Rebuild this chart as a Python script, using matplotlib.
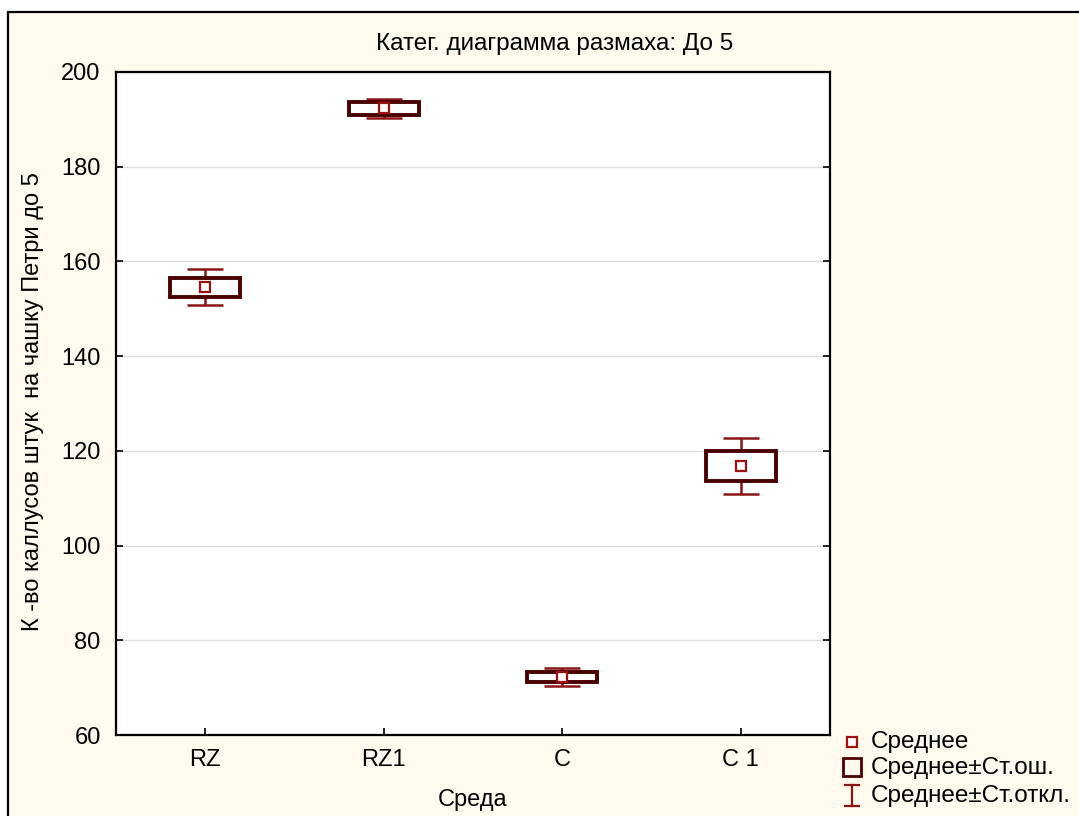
import matplotlib
matplotlib.use("Agg")
import matplotlib.pyplot as plt
from matplotlib.patches import Rectangle
from matplotlib.lines import Line2D

plt.rcParams['font.family'] = ['Liberation Sans', 'DejaVu Sans']

categories = ["RZ", "RZ1", "C", "C 1"]
means = [154.5, 192.3, 72.3, 116.8]
std_err = [2.1, 1.3, 1.05, 3.2]
std_dev = [3.8, 2.0, 1.9, 5.9]
y_ticks = [60, 80, 100, 120, 140, 160, 180, 200]

W, H = 1079, 816
fig = plt.figure(figsize=(W / 100, H / 100), dpi=100, facecolor="white")

# outer cream frame
frame = Rectangle((8 / W, -0.01), 1.1, 1 - 12 / H + 0.01, transform=fig.transFigure,
                  facecolor="#fff9ee", edgecolor="black", linewidth=1.6, zorder=-10)
fig.patches.append(frame)

ax = fig.add_axes([116 / W, 81 / H, 714 / W, 663 / H])
ax.set_facecolor("white")
ax.set_xlim(-0.5, 3.5)
ax.set_ylim(60, 200)

box_col = "#4a0000"
wh_col = "#8b1515"
mean_col = "#a01010"
box_w = 0.39
cap_w = 0.2

for i, (m, se, sd) in enumerate(zip(means, std_err, std_dev)):
    ax.vlines(i, m + se, m + sd, color=wh_col, lw=1.8, zorder=3)
    ax.vlines(i, m - sd, m - se, color=wh_col, lw=1.8, zorder=3)
    ax.hlines([m + sd, m - sd], i - cap_w / 2, i + cap_w / 2, color=wh_col, lw=1.8, zorder=3)
    ax.add_patch(Rectangle((i - box_w / 2, m - se), box_w, 2 * se, facecolor="white",
                           edgecolor=box_col, lw=2.8, zorder=4))
    ax.plot([i], [m], marker="s", ms=7, mfc="white", mec=mean_col, mew=1.6, zorder=5)

ax.set_xticks(range(len(categories)))
ax.set_xticklabels(categories)
ax.set_yticks(y_ticks)
ax.tick_params(axis="both", direction="in", labelsize=17, length=5, width=1.2)
ax.tick_params(axis="y", right=True, pad=11)
ax.tick_params(axis="x", pad=10)
ax.grid(axis="y", color="#dddddd", lw=1)
ax.set_axisbelow(True)
for s in ax.spines.values():
    s.set_linewidth(1.6)

fig.text(555 / W, 1 - 44 / H, "Катег. диаграмма размаха: До 5", ha="center", va="center", fontsize=17.5)
fig.text(473 / W, 1 - 800 / H, "Среда", ha="center", va="center", fontsize=17)
fig.text(33 / W, 1 - 402 / H, "К -во каллусов штук  на чашку Петри до 5", ha="center", va="center",
         rotation=90, fontsize=17)

# legend (manual)
def fx(x):
    return x / W

def fy(y):
    return 1 - y / H

fig.add_artist(Line2D([fx(852)], [fy(742)], marker="s", ms=7, mfc="white", mec=mean_col, mew=1.6,
                      transform=fig.transFigure))
fig.add_artist(Rectangle((fx(843), fy(776)), 18 / W, 18 / H, transform=fig.transFigure,
                         facecolor="none", edgecolor=box_col, lw=2))
fig.add_artist(Line2D([fx(852), fx(852)], [fy(785), fy(806)], color=wh_col, lw=1.6, transform=fig.transFigure))
fig.add_artist(Line2D([fx(845), fx(859)], [fy(785), fy(785)], color=wh_col, lw=1.6, transform=fig.transFigure))
fig.add_artist(Line2D([fx(845), fx(859)], [fy(806), fy(806)], color=wh_col, lw=1.6, transform=fig.transFigure))
for y, t in zip([742, 768, 796], ["Среднее", "Среднее±Ст.ош.", "Среднее±Ст.откл."]):
    fig.text(fx(871), fy(y), t, ha="left", va="center", fontsize=17.5)

fig.savefig("out.png", dpi=100, facecolor=fig.get_facecolor())
